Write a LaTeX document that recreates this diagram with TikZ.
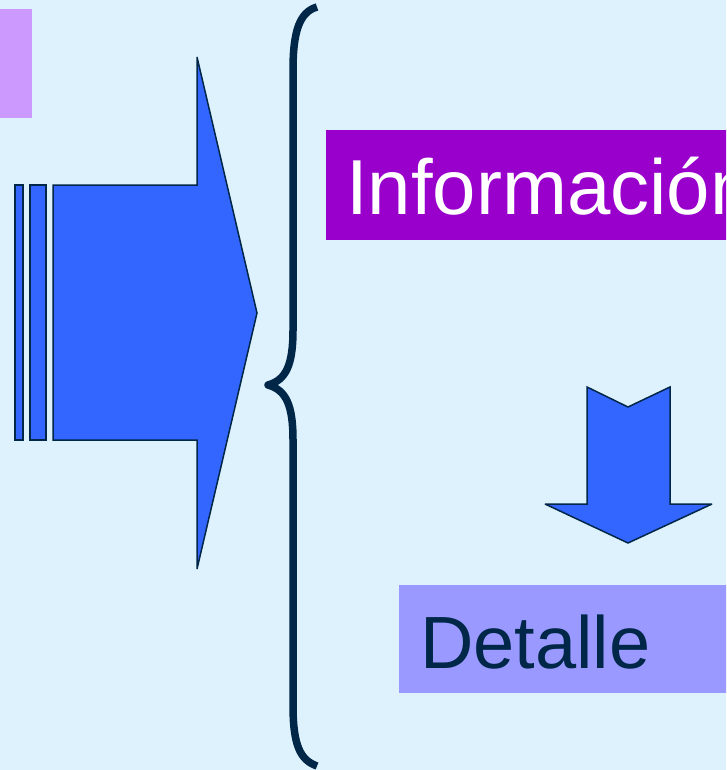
\documentclass[tikz,border=0pt]{standalone}
\usepackage{fontspec}
\setmainfont{Liberation Sans}
\usetikzlibrary{positioning}

\definecolor{bgblue}{RGB}{222,242,253}
\definecolor{navy}{RGB}{0,38,72}
\definecolor{arrowblue}{RGB}{51,102,255}
\definecolor{lilac}{RGB}{204,153,255}
\definecolor{violet}{RGB}{153,0,204}
\definecolor{periwinkle}{RGB}{153,153,255}

\begin{document}
\begin{tikzpicture} [x=1pt, y=-1pt,
    blockarrow/.style = {fill=arrowblue, draw=navy, line width=1.5pt, line join=miter, miter limit=3},
    bigtext/.style = {anchor=base west, inner sep=0pt, font=\fontsize{#1}{#1}\selectfont},
    brace/.style = {draw=navy, line width=7.5pt, line join=round}]
    \fill [bgblue] (0,0) rectangle (726,770);
    \clip (0,0) rectangle (726,770);

    \fill [lilac] (0,9) rectangle (32,118);

    % striped arrow
    \path [blockarrow] (15,185) rectangle (23,440);
    \path [blockarrow] (30,185) rectangle (46,440);
    \path [blockarrow] (53,185) -- (197,185) -- (197,57) -- (257,313) -- (197,569) -- (197,440) -- (53,440) -- cycle;

    % brace
    \path [brace] (317,7) .. controls (300,12) and (293,30) .. (293,70) -- (293,330)
        .. controls (293,365) and (286,380) .. (268,385)
        .. controls (286,390) and (293,405) .. (293,440) -- (293,705)
        .. controls (293,745) and (300,760) .. (317,766);

    \fill [violet] (326,130) rectangle (760,240);
    \node (info) [bigtext=78, text=white] at (346,214) {Información};

    % notched arrow
    \path [blockarrow] (587,387) -- (628,407) -- (670,387) -- (670,504) -- (712,504)
        -- (628,543) -- (545,504) -- (587,504) -- cycle;

    \fill [periwinkle] (399,585) rectangle (760,693);
    \node (detalle) [bigtext=74, text=navy] at (420,668) {Detalle};
\end{tikzpicture}
\end{document}
